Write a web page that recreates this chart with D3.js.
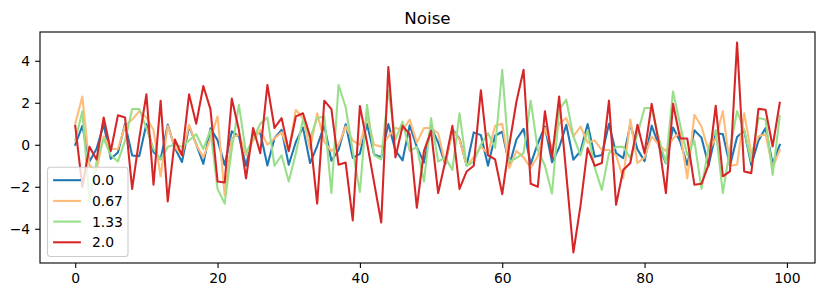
<!DOCTYPE html>
<html>
<head>
<meta charset="utf-8">
<script src="https://cdn.jsdelivr.net/npm/d3@7"></script>
<style>
    body { margin: 0; background: #fff; }
    svg { font-family: "DejaVu Sans", sans-serif; }
</style>
</head>
<body>
<div id="chart"></div>
<script>

// noise levels (legend labels)
const noiseLevels = ["0.0", "0.67", "1.33", "2.0"];
const lineColors = ["#1f77b4", "#ffbb78", "#98df8a", "#d62728"];

const xTicks = [0, 20, 40, 60, 80, 100];
const yTicks = [-4, -2, 0, 2, 4];

// values, one per step 0..99
const noise00 = [0, 0.90, -0.80, -0.19, 0.96, -0.67, -0.37, 1.00, -0.51, -0.54,
    0.99, -0.34, -0.69, 0.96, -0.16, -0.82, 0.88, 0.03, -0.91, 0.78,
    0.22, -0.97, 0.64, 0.40, -1.00, 0.49, 0.57, -0.99, 0.31, 0.71,
    -0.95, 0.13, 0.83, -0.87, -0.06, 0.92, -0.76, -0.25, 0.98, -0.62,
    -0.43, 1.00, -0.46, -0.59, 0.99, -0.28, -0.74, 0.93, -0.10, -0.85,
    0.85, 0.10, -0.93, 0.74, 0.28, -0.99, 0.59, 0.46, -1.00, 0.43,
    0.62, -0.98, 0.25, 0.76, -0.92, 0.06, 0.87, -0.83, -0.13, 0.95,
    -0.71, -0.31, 0.99, -0.57, -0.49, 1.00, -0.40, -0.64, 0.97, -0.22,
    -0.78, 0.91, -0.03, -0.88, 0.82, 0.16, -0.96, 0.69, 0.34, -0.99,
    0.54, 0.51, -1.00, 0.37, 0.67, -0.96, 0.19, 0.80, -0.90, 0];

const noise067 = [1.0, 2.3, -1.0, -1.2, 0.4, -0.2, -0.2, 0.9, 1.2, 1.6,
    1.3, 0.7, -1.5, 0.9, -0.1, -0.5, 0.95, 0.0, -0.6, 0.3,
    1.35, -2.4, 0.3, 0.5, -0.5, 0.2, 0.7, 0.0, 0.3, 0.6,
    -0.3, 1.67, 1.25, -0.2, 1.5, 0.15, -0.3, 0.0, 0.87, 0.2,
    0.0, 1.35, 0.0, -0.1, 0.4, 0.8, 0.7, 1.2, 0.1, 0.8,
    0.8, 0.55, -0.9, 0.7, 0.25, -1.0, -0.6, -0.1, -0.4, 0.9,
    1.0, -1.1, -0.3, -0.6, -1.1, -0.55, 0.8, -0.2, 1.0, 1.27,
    0.4, 0.87, 0.1, 0.2, -0.25, -0.25, -0.5, -1.6, 1.2, -0.87,
    -0.6, 0.4, 0.0, -0.3, 0.3, 0.6, -1.6, 1.43, 0.87, -0.3,
    0.3, 1.6, -1.0, -0.95, 1.5, -0.4, 0.4, 0.5, -1.1, -0.25];

const noise133 = [0.2, 1.6, -2.7, -0.8, 0.3, -0.5, -0.8, 0.2, 1.7, 1.7,
    0.8, -0.2, -0.7, -0.1, 0.0, -0.1, 0.2, 0.5, -0.2, 0.7,
    -2.1, -2.8, -0.2, 1.9, -0.4, 0.3, 1.0, 1.3, -1.0, -0.5,
    -1.75, -0.4, 1.2, 0.3, 1.27, 1.35, -2.3, 2.85, 1.8, -0.3,
    -2.25, 1.9, -0.5, -0.7, 2.6, 0.25, 1.1, -0.3, -0.1, -1.75,
    1.27, -0.8, -0.6, -1.2, 1.5, -1.0, -0.8, 0.0, 0.55, -0.15,
    3.57, -0.8, -0.63, -0.4, 2.1, -0.24, -1.0, -2.33, 1.67, 2.15,
    0.4, -0.5, 0.7, -1.1, -2.15, -0.4, -0.1, -0.1, -0.63, 0.5,
    1.75, 1.75, 0.3, -0.87, 2.54, 0.95, -0.5, 0.2, -2.1, -0.1,
    0.7, -2.3, -0.2, 1.6, 0.7, -0.8, 1.27, 1.2, -1.43, 1.38];

const noise20 = [0.9, -2.0, -0.1, -0.7, 1.3, -0.3, 1.4, 1.3, -2.1, 0.3,
    2.4, -1.9, 2.1, -2.7, 0.25, -0.5, 2.4, 1.0, 2.8, 1.7,
    -1.75, -1.8, 2.2, 0.7, -1.6, 0.8, -0.4, 2.85, 0.8, 1.27,
    -0.3, 1.35, 1.5, 0.4, -2.8, 2.1, 1.7, -0.95, -0.85, -3.6,
    1.85, 0.1, -1.8, -3.7, 3.7, -0.6, 0.9, 0.5, -3.0, -0.3,
    0.65, -2.3, -0.8, 0.9, -2.1, -1.27, -1.0, 2.6, -0.5, -0.7,
    -2.35, 0.0, 2.06, 3.57, -1.86, -2.0, 1.6, -0.63, 2.3, -1.4,
    -5.13, -2.9, -0.16, -1.0, -0.87, 2.1, -2.86, -1.2, -0.87, 0.95,
    -0.4, 1.95, 0.1, -2.3, 1.95, 0.3, 0.3, -1.9, -1.86, -0.95,
    1.86, -1.5, -1.27, 4.87, -1.27, -1.35, 1.71, 1.67, -0.08, 2.0];


class NoiseChart {
    constructor(parentElement, series) {
        this.parentElement = parentElement;
        this.series = series;
        this.initVis();
    }

    initVis() {
        let vis = this;

        vis.margin = {top: 32, right: 10, bottom: 34, left: 40};
        vis.width = 825 - vis.margin.left - vis.margin.right;
        vis.height = 297 - vis.margin.top - vis.margin.bottom;

        vis.root = d3.select("#" + vis.parentElement)
            .append("svg")
            .attr("width", 825)
            .attr("height", 297);

        vis.svg = vis.root.append("g")
            .attr("transform", "translate(" + vis.margin.left + "," + vis.margin.top + ")");

        // matplotlib style: 5% padding around the data
        let n = vis.series[0].length;
        let xPad = (n - 1) * 0.05;
        vis.x = d3.scaleLinear()
            .domain([-xPad, n - 1 + xPad])
            .range([0, vis.width]);

        let allVals = vis.series.flat();
        let yMin = d3.min(allVals), yMax = d3.max(allVals);
        let yPad = (yMax - yMin) * 0.05;
        vis.y = d3.scaleLinear()
            .domain([yMin - yPad, yMax + yPad])
            .range([vis.height, 0]);

        vis.updateVis();
    }

    updateVis() {
        let vis = this;

        let line = d3.line()
            .x((d, i) => vis.x(i))
            .y(d => vis.y(d));

        vis.svg.append("defs").append("clipPath")
            .attr("id", "clip")
            .append("rect")
            .attr("width", vis.width)
            .attr("height", vis.height);

        vis.svg.append("g")
            .attr("clip-path", "url(#clip)")
            .selectAll("path.series")
            .data(vis.series)
            .enter().append("path")
            .attr("class", "series")
            .attr("fill", "none")
            .attr("stroke", (d, i) => lineColors[i])
            .attr("stroke-width", 2.08)
            .attr("stroke-linejoin", "round")
            .attr("stroke-linecap", "square")
            .attr("d", line);

        // axes
        let xAxis = d3.axisBottom(vis.x)
            .tickValues(xTicks)
            .tickSize(4.9)
            .tickPadding(4.9)
            .tickFormat(d3.format("d"));

        let yAxis = d3.axisLeft(vis.y)
            .tickValues(yTicks)
            .tickSize(4.9)
            .tickPadding(4.9)
            .tickFormat(d3.format("d"));

        let gx = vis.svg.append("g")
            .attr("transform", "translate(0," + vis.height + ")")
            .call(xAxis);
        let gy = vis.svg.append("g").call(yAxis);

        [gx, gy].forEach(g => {
            g.select(".domain").remove();
            g.selectAll(".tick line").attr("stroke", "#000").attr("stroke-width", 1.1);
            g.selectAll(".tick text")
                .attr("fill", "#000")
                .style("font-size", "13.9px")
                .style("font-family", "DejaVu Sans");
        });

        // frame
        vis.svg.append("rect")
            .attr("width", vis.width)
            .attr("height", vis.height)
            .attr("fill", "none")
            .attr("stroke", "#000")
            .attr("stroke-width", 1.1);

        // title
        vis.svg.append("text")
            .attr("x", vis.width / 2)
            .attr("y", -8.5)
            .attr("text-anchor", "middle")
            .style("font-size", "16.7px")
            .text("Noise");

        // legend, lower left
        let fs = 13.9;
        let rowH = 20.7;
        let lg = vis.svg.append("g")
            .attr("transform", "translate(7.5," + (vis.height - 7 - 4 * rowH - 6) + ")");

        lg.append("rect")
            .attr("width", 80.5)
            .attr("height", 4 * rowH + 6.5)
            .attr("rx", 2.8)
            .attr("fill", "#fff")
            .attr("fill-opacity", 0.8)
            .attr("stroke", "#cccccc")
            .attr("stroke-width", 1.1);

        let rows = lg.selectAll("g.row")
            .data(noiseLevels)
            .enter().append("g")
            .attr("class", "row")
            .attr("transform", (d, i) => "translate(5.6," + (13 + i * rowH) + ")");

        rows.append("line")
            .attr("x1", 0).attr("x2", 27.8)
            .attr("stroke", (d, i) => lineColors[i])
            .attr("stroke-width", 2.08);

        rows.append("text")
            .attr("x", 38.9)
            .attr("dy", "0.36em")
            .style("font-size", fs + "px")
            .text(d => d);
    }
}

new NoiseChart("chart", [noise00, noise067, noise133, noise20]);

</script>
</body>
</html>
